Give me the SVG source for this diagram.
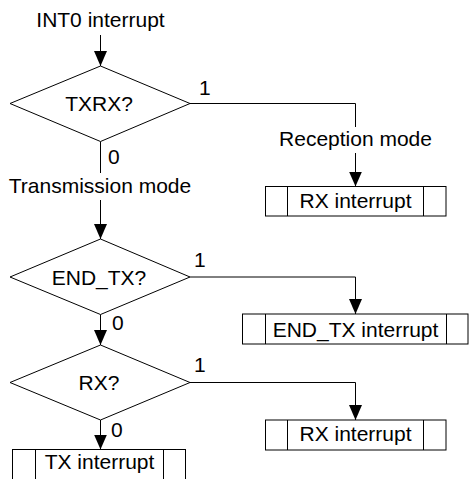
<svg xmlns="http://www.w3.org/2000/svg" width="469" height="479" viewBox="0 0 469 479">
<style>
text{font-family:"Liberation Sans",Arial,sans-serif;font-size:21px;fill:#000}
.c{text-anchor:middle}
.shape{fill:#fff;stroke:#000;stroke-width:1}
.conn path{fill:none;stroke:#000;stroke-width:1}
</style>
<defs>
<marker id="ah" markerUnits="userSpaceOnUse" markerWidth="15" markerHeight="13" refX="15" refY="6.5" orient="auto">
<path d="M0,0 L15,6.5 L0,13 z" fill="#000"/>
</marker>
</defs>
<rect width="469" height="479" fill="#fff"/>
<g id="connectors" class="conn">
<path d="M100.5,35 V66" marker-end="url(#ah)"/>
<path d="M190,103.5 H355.5 V127"/>
<path d="M355.5,153 V186.5" marker-end="url(#ah)"/>
<path d="M100.5,141.5 V173"/>
<path d="M100.5,200 V239" marker-end="url(#ah)"/>
<path d="M190,277 H355.5 V314" marker-end="url(#ah)"/>
<path d="M100.5,314.5 V345" marker-end="url(#ah)"/>
<path d="M190,382.5 H355.5 V420" marker-end="url(#ah)"/>
<path d="M100.5,420 V449.5" marker-end="url(#ah)"/>
</g>
<g id="labels">
<text x="199" y="94.5">1</text>
<text x="108" y="163.5">0</text>
<text x="194" y="267">1</text>
<text x="112" y="330">0</text>
<text x="194" y="372">1</text>
<text x="111" y="437">0</text>
</g>
<g id="start"><text class="c" x="100.5" y="26.7">INT0 interrupt</text></g>
<g id="txrx">
<polygon class="shape" points="10,103.5 100.5,66 190,103.5 100.5,141.5"/>
<text class="c" x="99" y="111">TXRX?</text>
</g>
<g id="reception"><text class="c" x="355.5" y="146">Reception mode</text></g>
<g id="transmission"><text class="c" x="100" y="193">Transmission mode</text></g>
<g id="rx1">
<rect class="shape" x="265.5" y="186.5" width="180.5" height="29.5"/>
<path d="M287.5,186.5 V216 M423.5,186.5 V216" stroke="#000" fill="none"/>
<text class="c" x="355.5" y="208">RX interrupt</text>
</g>
<g id="endtx">
<polygon class="shape" points="10,277 100.5,239 190,277 100.5,314.5"/>
<text class="c" x="99" y="284.5">END_TX?</text>
</g>
<g id="endtxint">
<rect class="shape" x="242.5" y="314" width="225.5" height="30"/>
<path d="M265.5,314 V344 M446.5,314 V344" stroke="#000" fill="none"/>
<text class="c" x="355.5" y="336.5">END_TX interrupt</text>
</g>
<g id="rx">
<polygon class="shape" points="10,382.5 100.5,345 190,382.5 100.5,420"/>
<text class="c" x="99" y="390">RX?</text>
</g>
<g id="rx2">
<rect class="shape" x="265.5" y="420" width="180.5" height="30"/>
<path d="M287.5,420 V450 M423.5,420 V450" stroke="#000" fill="none"/>
<text class="c" x="355.5" y="440.5">RX interrupt</text>
</g>
<g id="txint">
<rect class="shape" x="12.5" y="449.5" width="173" height="40"/>
<path d="M35.5,449.5 V480 M163.5,449.5 V480" stroke="#000" fill="none"/>
<text class="c" x="99.5" y="468.5">TX interrupt</text>
</g>
</svg>
